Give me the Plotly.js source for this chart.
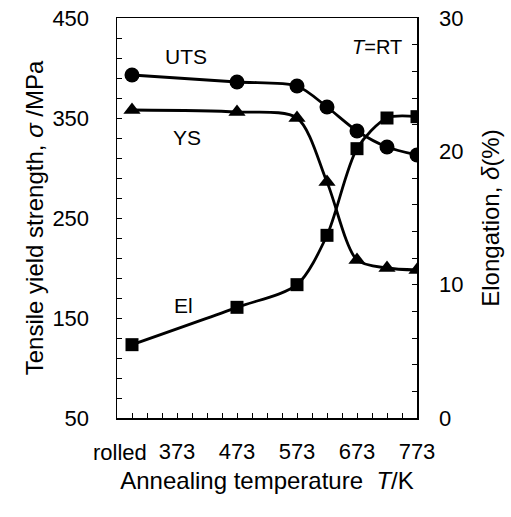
<!DOCTYPE html>
<html>
<head>
<meta charset="utf-8">
<script src="https://cdn.plot.ly/plotly-3.0.1.min.js"></script>
<style>html,body{margin:0;padding:0;background:#fff;}#chart{width:511px;height:517px;}</style>
</head>
<body>
<div id="chart"></div>
<script>
// Annealing temperature (K); "rolled" state plotted at room temperature 298 K
const temps = [298, 473, 573, 623, 673, 723, 773];
const uts = [393, 386, 382, 361, 337, 321, 313];        // MPa, left axis
const ys = [358, 356, 350, 286, 208, 200, 198];         // MPa, left axis
const elong = [5.5, 8.3, 10.0, 13.7, 20.2, 22.5, 22.6]; // %, right axis
const xTickVals = [298, 373, 473, 573, 673, 773];
const xTickText = ['', '373', '473', '573', '673', '773'];
const rolledLabel = 'rolled';   // label of the as-rolled state, drawn just left of its tick as in the source

const FONT = 'Liberation Sans, Arial, Helvetica, sans-serif';
const lineStyle = {color: '#000', width: 2.8, shape: 'spline', smoothing: 0.8};

const traces = [
  {x: temps, y: uts, type: 'scatter', mode: 'lines+markers', name: 'UTS',
   line: lineStyle, marker: {symbol: 'circle', size: 15, color: '#000'}},
  {x: temps, y: ys, type: 'scatter', mode: 'lines+markers', name: 'YS',
   line: lineStyle, marker: {symbol: 'triangle-up', size: 15, color: '#000'}},
  {x: temps, y: elong, type: 'scatter', mode: 'lines+markers', name: 'El', yaxis: 'y2',
   line: lineStyle, marker: {symbol: 'square', size: 13, color: '#000'}}
];

const layout = {
  width: 511, height: 517,
  margin: {l: 117, r: 94, t: 18, b: 99},
  paper_bgcolor: '#fff', plot_bgcolor: '#fff',
  showlegend: false,
  font: {family: FONT, color: '#000', size: 22},
  xaxis: {
    range: [273, 773], showgrid: false, zeroline: false,
    showline: true, linecolor: '#000', linewidth: 1.5, mirror: true,
    tickmode: 'array', tickvals: xTickVals, ticktext: xTickText, tickangle: 0,
    ticks: 'inside', ticklen: 5, tickwidth: 1, tickcolor: '#000',
    minor: {tick0: 273, dtick: 25, ticks: 'inside', ticklen: 5, tickwidth: 1, tickcolor: '#000'},
    tickfont: {size: 22, family: FONT},
    ticklabelstandoff: 13,
    title: {text: 'Annealing temperature  <i>T</i>/K', font: {size: 24, family: FONT}, standoff: 9}
  },
  yaxis: {
    range: [50, 450], showgrid: false, zeroline: false,
    showline: true, linecolor: '#000', linewidth: 1.5,
    tick0: 50, dtick: 100,
    ticks: 'inside', ticklen: 5, tickwidth: 1, tickcolor: '#000',
    minor: {tick0: 50, dtick: 20, ticks: 'inside', ticklen: 5, tickwidth: 1, tickcolor: '#000'},
    tickfont: {size: 22, family: FONT},
    ticklabelstandoff: 22,
    title: {text: 'Tensile yield strength, <i>σ</i> /MPa', font: {size: 24, family: FONT}, standoff: 2}
  },
  yaxis2: {
    range: [0, 30], overlaying: 'y', side: 'right', showgrid: false, zeroline: false,
    showline: true, linecolor: '#000', linewidth: 1.5,
    tick0: 0, dtick: 10,
    ticks: 'inside', ticklen: 5, tickwidth: 1, tickcolor: '#000',
    minor: {tick0: 0, dtick: 2, ticks: 'inside', ticklen: 5, tickwidth: 1, tickcolor: '#000'},
    tickfont: {size: 22, family: FONT},
    ticklabelstandoff: 16,
    title: {text: 'Elongation, <i>δ</i>(%)', font: {size: 24, family: FONT}, standoff: 20}
  },
  annotations: [
    {text: rolledLabel, x: temps[0] - 20, y: -0.085, xref: 'x', yref: 'paper', yanchor: 'middle',
     showarrow: false, font: {size: 22, family: FONT}},
    {text: 'UTS', x: 388, y: 412, xref: 'x', yref: 'y', showarrow: false, font: {size: 21, family: FONT}},
    {text: 'YS', x: 390, y: 331, xref: 'x', yref: 'y', showarrow: false, font: {size: 21, family: FONT}},
    {text: 'El', x: 383, y: 163, xref: 'x', yref: 'y', showarrow: false, font: {size: 21, family: FONT}},
    {text: '<i>T</i>=RT', x: 707, y: 421, xref: 'x', yref: 'y', showarrow: false, font: {size: 20, family: FONT}}
  ]
};

Plotly.newPlot('chart', traces, layout, {staticPlot: true, displayModeBar: false});
</script>
</body>
</html>
